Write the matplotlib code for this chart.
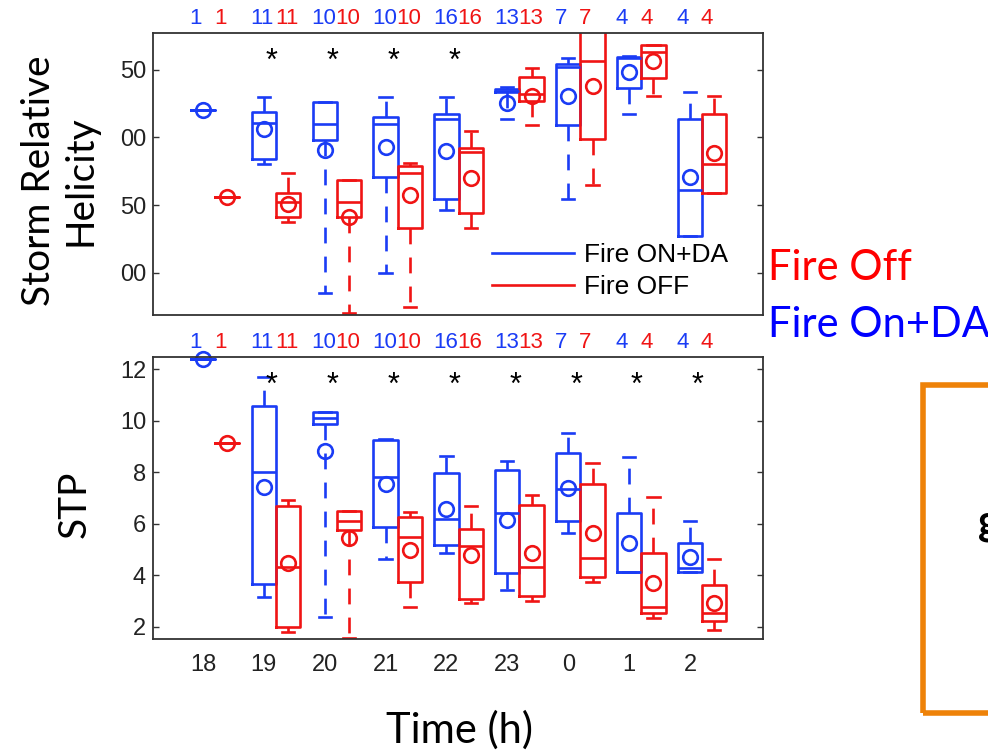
import matplotlib
matplotlib.use("Agg")
import matplotlib.pyplot as plt
import matplotlib.transforms as mtransforms
from matplotlib.lines import Line2D
from matplotlib.patches import Rectangle

# hours on the x axis and number of members per box
hours = ['18', '19', '20', '21', '22', '23', '0', '1', '2']
counts = [1, 11, 10, 10, 16, 13, 7, 4, 4]

# box stats per hour: (whislo, q1, median, q3, whishi, mean)
srh_on = [(220, 220, 220, 220, 220, 220),
          (180.7, 183.8, 210.5, 219, 230, 206.4),
          (85, 198.3, 210, 226, 226, 190.4),
          (100, 170.8, 210, 215.4, 230, 192.9),
          (146.8, 154.2, 213.2, 217.4, 230, 190),
          (213.7, 233.5, 234.5, 235.5, 237, 225.2),
          (154.9, 209.3, 251.7, 254.2, 258.6, 230.4),
          (217.4, 236.5, 258.6, 259.5, 260.3, 248),
          (127.5, 127.5, 161.5, 213.7, 233.8, 170.8)]
srh_off = [(156, 156, 156, 156, 156, 156),
           (137.3, 141, 152, 159.3, 173.8, 150.7),
           (70.5, 141.4, 152.4, 168.4, 168.4, 141.4),
           (75.2, 132.9, 173.8, 178.9, 181.4, 157.4),
           (133.3, 143.9, 189.2, 192.4, 204.4, 170.1),
           (209.3, 226.5, 232.1, 244.9, 251, 230.9),
           (164.7, 199, 256.1, 285, 290, 238.2),
           (230.9, 243.9, 262.7, 268.2, 268.2, 256.6),
           (159, 159, 180.7, 216.9, 230.9, 188.5)]
stp_on = [(12.41, 12.41, 12.41, 12.41, 12.41, 12.41),
          (3.17, 3.65, 7.99, 10.58, 11.7, 7.41),
          (2.38, 9.86, 10.09, 10.32, 10.35, 8.83),
          (4.62, 5.86, 7.83, 9.25, 9.27, 7.53),
          (4.88, 5.18, 6.19, 7.98, 8.63, 6.57),
          (3.43, 4.08, 6.43, 8.09, 8.45, 6.15),
          (5.66, 6.12, 7.35, 8.73, 9.51, 7.38),
          (4.12, 4.12, 4.14, 6.4, 8.6, 5.24),
          (4.14, 4.14, 4.27, 5.27, 6.12, 4.72)]
stp_off = [(9.12, 9.12, 9.12, 9.12, 9.12, 9.12),
           (1.82, 2.01, 4.31, 6.69, 6.92, 4.47),
           (1.56, 5.76, 6.12, 6.51, 6.51, 5.44),
           (2.79, 3.73, 5.5, 6.25, 6.47, 4.98),
           (2.94, 3.07, 5.14, 5.8, 6.69, 4.79),
           (3.01, 3.21, 4.31, 6.73, 7.13, 4.88),
           (3.76, 3.95, 4.66, 7.53, 8.34, 5.63),
           (2.36, 2.53, 2.76, 4.86, 7.03, 3.69),
           (1.88, 2.21, 2.53, 3.63, 4.64, 2.92)]

srh_stars = ['19', '20', '21', '22']
stp_stars = ['19', '20', '21', '22', '23', '0', '1', '2']

blue = '#1a3cf5'
red = '#f01414'
lw = 1.9
dash = (0, (6, 5))


def to_stats(rows):
    out = []
    for lo, q1, med, q3, hi, mean in rows:
        out.append(dict(whislo=lo, q1=q1, med=med, q3=q3, whishi=hi,
                        mean=mean, fliers=[]))
    return out


def draw_boxes(ax, rows, offset, color):
    pos = [i + offset for i in range(len(hours))]
    ax.bxp(to_stats(rows), positions=pos, widths=0.4, capwidths=0.2,
           showmeans=True, showfliers=False, manage_ticks=False,
           boxprops=dict(color=color, lw=lw),
           medianprops=dict(color=color, lw=lw),
           whiskerprops=dict(color=color, lw=lw, linestyle=dash),
           capprops=dict(color=color, lw=lw),
           meanprops=dict(marker='o', markerfacecolor='none',
                          markeredgecolor=color, markersize=10.5,
                          markeredgewidth=lw, clip_on=False))


def style(ax, ylim, yticks, ylabels, stars):
    ax.set_xlim(-0.82, 9.2)
    ax.set_ylim(*ylim)
    ax.set_yticks(yticks)
    ax.set_yticklabels(ylabels, fontsize=17, family='Liberation Sans',
                       color='#222222')
    ax.tick_params(axis='y', direction='in', length=4.5, width=1,
                   right=True, pad=5, color='#333333')
    ax.tick_params(axis='x', length=0)
    for s in ax.spines.values():
        s.set_color('#333333')
        s.set_linewidth(1.3)
    tr = mtransforms.blended_transform_factory(ax.transData, ax.transAxes)
    # member counts, left-aligned on the left edge of each box
    for i, n in enumerate(counts):
        ax.text(i - 0.22, 1.05, str(n), transform=tr, color=blue, ha='left',
                va='center', fontsize=16, family='Liberation Sans', clip_on=False)
        ax.text(i + 0.18, 1.05, str(n), transform=tr, color=red, ha='left',
                va='center', fontsize=16, family='Liberation Sans', clip_on=False)
    for h in stars:
        ax.text(hours.index(h) + 0.13, 0.868, '*', transform=tr, color='black',
                ha='center', va='baseline', fontsize=22, family='Liberation Sans')


fig = plt.figure(figsize=(9.88, 7.54), dpi=100)
ax1 = fig.add_axes([153 / 988, 1 - 315 / 754, 610 / 988, 282 / 754])
ax2 = fig.add_axes([153 / 988, 1 - 639 / 754, 610 / 988, 282 / 754])

draw_boxes(ax1, srh_on, 0, blue)
draw_boxes(ax1, srh_off, 0.4, red)
style(ax1, (69, 277), [100, 150, 200, 250], ['00', '50', '00', '50'], srh_stars)
ax1.set_xticks([])

draw_boxes(ax2, stp_on, 0, blue)
draw_boxes(ax2, stp_off, 0.4, red)
style(ax2, (1.53, 12.47), [2, 4, 6, 8, 10, 12], ['2', '4', '6', '8', '10', '12'], stp_stars)
ax2.set_xticks(range(len(hours)))
ax2.set_xticklabels(hours, fontsize=17, family='Liberation Sans', color='#222222')
ax2.tick_params(axis='x', pad=11)

handles = [Line2D([], [], color=blue, lw=lw), Line2D([], [], color=red, lw=lw)]
leg = ax1.legend(handles, ['Fire ON+DA', 'Fire OFF'], loc='upper left',
                 bbox_to_anchor=((492 - 153) / 610, (315 - 243) / 282),
                 frameon=False, borderpad=0, borderaxespad=0,
                 handlelength=3.1, handletextpad=0.4, labelspacing=0.3,
                 prop=dict(family='Liberation Sans', size=19))

fig.text(60 / 988, 1 - 181 / 754, 'Storm Relative\nHelicity', rotation=90,
         ha='center', va='center', fontsize=28, family='Lato', linespacing=1.2)
fig.text(75 / 988, 1 - 504 / 754, 'STP', rotation=90, ha='center',
         va='center', fontsize=28, family='Lato')
fig.text(459 / 988, 1 - 730 / 754, 'Time (h)', ha='center', va='center',
         fontsize=30, family='Lato')
fig.text(768 / 988, 1 - 268 / 754, 'Fire Off', color='#ff0000', ha='left',
         va='center', fontsize=30, family='Lato')
fig.text(768 / 988, 1 - 325 / 754, 'Fire On+DA', color='#0000ff', ha='left',
         va='center', fontsize=30, family='Lato')

# slide box at the right edge, with a glyph cut off by the crop
fig.add_artist(Rectangle((923 / 988, 1 - 713 / 754), 0.2, 328 / 754,
                         transform=fig.transFigure, fill=False,
                         edgecolor='#ee8208', lw=4))
fig.text(978 / 988, 1 - 523 / 754, 'g', ha='left', va='center', fontsize=30,
         fontweight='bold', family='Lato')

fig.savefig('out.png', dpi=100)
